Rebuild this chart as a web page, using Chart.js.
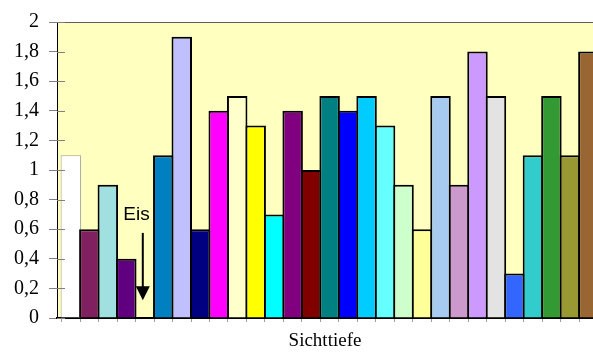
<!DOCTYPE html>
<html>
<head>
<meta charset="utf-8">
<script src="https://cdn.jsdelivr.net/npm/chart.js@4/dist/chart.umd.min.js"></script>
<style>
  html, body { margin: 0; padding: 0; background: #fff; overflow: hidden; }
</style>
</head>
<body>
<canvas id="chart" width="593" height="352"></canvas>
<script>
// Sichttiefe values, one bar per sample (index 4 = Eis, no value)
const sichttiefe = [1.1, 0.6, 0.9, 0.4, null, 1.1, 1.9, 0.6, 1.4, 1.5, 1.3, 0.7, 1.4, 1.0, 1.5,
  1.4, 1.5, 1.3, 0.9, 0.6, 1.5, 0.9, 1.8, 1.5, 0.3, 1.1, 1.5, 1.1, 1.8]
const yTickLabels = ['0', '0,2', '0,4', '0,6', '0,8', '1', '1,2', '1,4', '1,6', '1,8', '2']
const axisTitle = 'Sichttiefe'
const iceLabel = 'Eis'
const iceIndex = 4

const barColors = ['#FFFFFF', '#802060', '#A0E0E0', '#600080', '#FFFFFF', '#0080C0', '#C0C0FF',
  '#000080', '#FF00FF', '#FFFFCC', '#FFFF00', '#00FFFF', '#800080', '#800000', '#008080',
  '#0000FF', '#00CCFF', '#66FFFF', '#CCFFCC', '#FFFF99', '#A6CAF0', '#CC99CC', '#CC99FF',
  '#E3E3E3', '#3366FF', '#33CCCC', '#339933', '#999933', '#996633']

const points = sichttiefe.map((v, i) => ({ x: i, y: v }))

// plot area background, top border and inner halves of the y ticks
const frame = {
  id: 'frame',
  beforeDraw (chart) {
    const { ctx, chartArea: a } = chart
    ctx.save()
    ctx.fillStyle = '#FFFFC0'
    ctx.fillRect(a.left, a.top, a.right - a.left, a.bottom - a.top)
    ctx.restore()
  },
  afterDraw (chart) {
    const { ctx, chartArea: a } = chart
    const y = chart.scales.y
    ctx.save()
    ctx.strokeStyle = '#606060'
    ctx.lineWidth = 1
    ctx.beginPath()
    ctx.moveTo(a.left, a.top + 0.5)
    ctx.lineTo(a.right, a.top + 0.5)
    ctx.stroke()
    ctx.strokeStyle = '#808080'
    y.ticks.forEach(t => {
      const py = Math.round(y.getPixelForValue(t.value)) + 0.5
      ctx.beginPath()
      ctx.moveTo(a.left, py)
      ctx.lineTo(a.left + 8, py)
      ctx.stroke()
    })
    ctx.restore()
  }
}

// "Eis" note with arrow pointing to the empty slot
const iceNote = {
  id: 'iceNote',
  afterDatasetsDraw (chart) {
    const { ctx } = chart
    const x = chart.scales.x
    const y = chart.scales.y
    const ax = x.getPixelForValue(iceIndex) - 2
    const top = y.getPixelForValue(0.575)
    const tip = y.getPixelForValue(0.12)
    ctx.save()
    ctx.fillStyle = '#000'
    ctx.font = '19px "Liberation Sans", Arial, sans-serif'
    ctx.textAlign = 'center'
    ctx.textBaseline = 'alphabetic'
    ctx.fillText(iceLabel, x.getPixelForValue(iceIndex - 0.45), y.getPixelForValue(0.663))
    ctx.strokeStyle = '#000'
    ctx.lineWidth = 2
    ctx.beginPath()
    ctx.moveTo(ax, top)
    ctx.lineTo(ax, tip - 10)
    ctx.stroke()
    ctx.beginPath()
    ctx.moveTo(ax - 7, tip - 14)
    ctx.lineTo(ax + 7, tip - 14)
    ctx.lineTo(ax, tip)
    ctx.closePath()
    ctx.fill()
    ctx.restore()
  }
}

new Chart(document.getElementById('chart').getContext('2d'), {
  type: 'bar',
  data: {
    datasets: [
      {
        data: points,
        backgroundColor: barColors,
        borderColor: barColors.map((c, i) => i === 0 ? '#A0A0A0' : '#000000'),
        borderWidth: barColors.map((c, i) => i === 0 ? 1 : 2),
        borderSkipped: 'start',
        categoryPercentage: 1,
        barPercentage: 1.108
      }
    ]
  },
  options: {
    responsive: false,
    animation: false,
    devicePixelRatio: 1,
    layout: { padding: { top: 18, left: 0, right: 0, bottom: 0 } },
    plugins: {
      legend: { display: false },
      tooltip: { enabled: false }
    },
    scales: {
      x: {
        type: 'linear',
        offset: false,
        min: -0.75,
        max: 28.25,
        afterBuildTicks: scale => {
          scale.ticks = sichttiefe.map((v, i) => ({ value: i - 0.5 }))
        },
        afterFit: scale => { scale.height = 34 },
        ticks: { display: false },
        grid: { drawOnChartArea: false, offset: false, tickLength: 4, color: '#A0A0A0' },
        border: { color: '#000000', width: 2 },
        title: {
          display: true,
          text: axisTitle,
          color: '#000',
          font: { family: '"Liberation Serif", "Times New Roman", serif', size: 19 },
          padding: { top: 0, bottom: 0 }
        }
      },
      y: {
        min: 0,
        max: 2,
        afterFit: scale => { scale.width = 57 },
        ticks: {
          stepSize: 0.2,
          padding: 10,
          color: '#000',
          font: { family: '"Liberation Serif", "Times New Roman", serif', size: 20 },
          callback: (value, index) => yTickLabels[index]
        },
        grid: { drawOnChartArea: false, tickLength: 8, color: '#808080' },
        border: { color: '#000000', width: 1 }
      }
    }
  },
  plugins: [frame, iceNote]
})
</script>
</body>
</html>
